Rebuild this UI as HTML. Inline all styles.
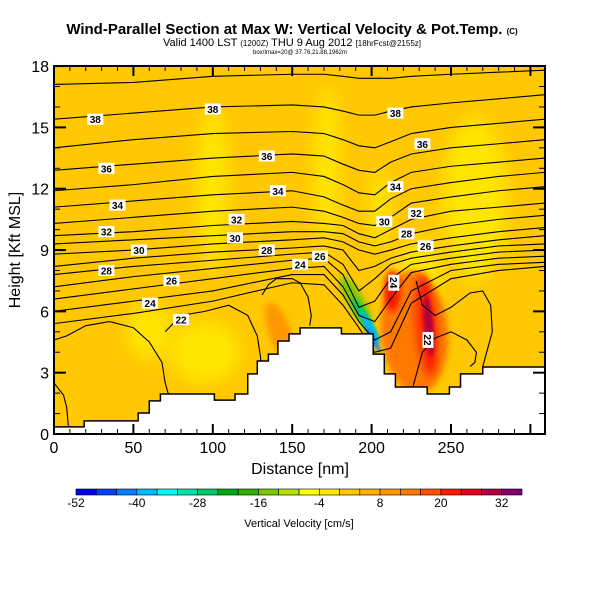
<!DOCTYPE html>
<html><head><meta charset="utf-8">
<style>
body{margin:0;background:#fff;width:600px;height:600px;overflow:hidden}
svg{display:block;font-family:"Liberation Sans",sans-serif}
</style></head>
<body>
<svg id="chart" width="600" height="600" viewBox="0 0 600 600" xmlns="http://www.w3.org/2000/svg">
<defs>
<filter id="blur8" x="-50%" y="-50%" width="200%" height="200%"><feGaussianBlur stdDeviation="8"/></filter>
<filter id="blur3" x="-50%" y="-50%" width="200%" height="200%"><feGaussianBlur stdDeviation="3"/></filter>
<filter id="blur2" x="-50%" y="-50%" width="200%" height="200%"><feGaussianBlur stdDeviation="1.5"/></filter>
<clipPath id="plotclip"><rect x="54" y="66" width="491" height="368"/></clipPath>
</defs>
<text x="292" y="34" text-anchor="middle" font-size="15" font-weight="bold">Wind-Parallel Section at Max W: Vertical Velocity &amp; Pot.Temp. <tspan font-size="8">(C)</tspan></text>
<text x="292" y="46" text-anchor="middle" font-size="11">Valid 1400 LST <tspan font-size="8">(1200Z)</tspan> THU 9 Aug 2012 <tspan font-size="8">[18hrFcst@2155z]</tspan></text>
<text x="300" y="54" text-anchor="middle" font-size="6">box/Imax=20@ 37.76,21.88,1962m</text>
<g id="plot" clip-path="url(#plotclip)">
<rect x="54" y="66" width="491" height="368" fill="#ffc800"/>
<g id="patches"></g>
<g id="contours"></g>
<path id="terrain" fill="#fff" stroke="#000" stroke-width="1.5"/>
<g id="labels"></g>
</g>
<rect x="54" y="66" width="491" height="368" fill="none" stroke="#000" stroke-width="2"/>
<g id="axes"></g>
<text x="300" y="474" text-anchor="middle" font-size="16">Distance [nm]</text>
<text transform="translate(20,250) rotate(-90)" text-anchor="middle" font-size="16">Height [Kft MSL]</text>
<g id="colorbar"></g>
<text x="299" y="527" text-anchor="middle" font-size="11">Vertical Velocity [cm/s]</text>
</svg>
<script>
// ---- data ----
const xTicks = [0, 50, 100, 150, 200, 250];
const yTicks = [0, 3, 6, 9, 12, 15, 18];
const cbLevels = [-52,-48,-44,-40,-36,-32,-28,-24,-20,-16,-12,-8,-4,0,4,8,12,16,20,24,28,32,36];
const cbColors = ["#0000f0","#0040ff","#0080ff","#00b8ff","#00f8f0","#00e0a8","#00c868","#00a818","#30b000","#78c800","#b8e000","#ffff00","#ffe600","#ffc800","#ffb000","#ff9800","#ff7800","#ff5000","#ff1800","#e00020","#b00040","#800070"];
const cbTickLabels = [-52, -40, -28, -16, -4, 8, 20, 32];
// terrain profile (distance nm, height kft)
const terrainD = [0,19,19,53,53,60,60,67,67,101,101,114,114,122,122,128,128,135,135,141,141,148,148,155,155,181,181,201,201,208,208,215,215,235,235,249,249,256,256,270,270,309];
const terrainH = [0.35,0.35,0.64,0.64,1.03,1.03,1.62,1.62,1.96,1.96,1.66,1.66,1.96,1.96,2.94,2.94,3.57,3.57,3.91,3.91,4.55,4.55,4.9,4.9,5.19,5.19,4.9,4.9,3.91,3.91,2.94,2.94,2.3,2.3,1.96,1.96,2.3,2.3,2.94,2.94,3.28,3.28];
// vertical velocity patches: centre distance, centre height, value (cm/s)
const patchD = [100,172,265,95,60,205,142,230,227,213,234,235,236,190,196,199,201];
const patchH = [12,13,11.5,4,5,11,5,8,5,7.0,5.3,5.3,5.3,6.5,5.6,5.2,4.6];
const patchV = [-2,-2,-2,-2,-2,-2,10,-2,12,20,16,22,30,-16,-28,-40,-44];
const patchRx = [10,8,20,22,14,6,7,15,21,5,8,4,2.8,5,3,2.2,1.4];
const patchRy = [4,4,4,1.5,1.3,2,1.5,1.5,3.0,1,2.6,2.2,1.5,1.4,1.2,0.9,0.7];
const patchRot = [0,0,0,0,0,0,-20,0,-5,0,-5,-5,-5,-30,-30,-30,-30];
// potential temperature contours: heights at knot distances
const contourD = [0,50,100,150,170,182,192,202,212,225,250,280,309];
const contourH = [
 [17.1,17.2,17.5,17.6,17.6,17.5,17.4,17.4,17.4,17.5,17.6,17.7,17.8],
 [15.4,15.7,16.0,16.1,16.0,15.8,15.6,15.6,15.8,16.0,16.2,16.4,16.6],
 [14.0,14.4,14.7,14.8,14.7,14.4,14.1,14.0,14.3,14.7,15.0,15.2,15.4],
 [12.9,13.2,13.5,13.7,13.6,13.2,12.9,12.8,13.3,13.7,14.0,14.2,14.4],
 [11.9,12.2,12.6,12.8,12.6,12.2,11.8,11.7,12.3,12.8,13.1,13.3,13.5],
 [11.1,11.4,11.7,11.9,11.6,11.2,10.9,10.9,11.5,12.0,12.3,12.6,12.8],
 [10.3,10.6,10.9,11.1,10.9,10.6,10.3,10.2,10.6,11.3,11.6,11.9,12.1],
 [9.7,9.9,10.2,10.4,10.3,10.2,9.8,9.6,10.0,10.5,10.9,11.1,11.3],
 [9.3,9.5,9.7,9.9,9.9,9.8,9.4,9.2,9.4,9.8,10.2,10.5,10.7],
 [8.8,9.0,9.3,9.5,9.6,9.4,9.0,8.8,9.0,9.3,9.6,9.9,10.1],
 [8.2,8.6,8.9,9.1,9.2,9.0,8.0,8.2,8.6,8.9,9.2,9.5,9.7],
 [7.8,8.2,8.5,8.8,8.9,8.3,7.0,7.6,8.3,8.6,8.9,9.2,9.3],
 [7.2,7.7,8.1,8.5,8.6,7.8,6.2,6.5,7.6,8.3,8.6,8.9,9.0],
 [6.6,7.1,7.6,8.1,8.2,7.2,5.8,5.5,6.6,7.9,8.3,8.6,8.7],
 [6.0,6.5,7.0,7.8,7.8,6.8,5.5,4.6,5.0,7.0,8.0,8.3,8.4],
 [5.4,5.9,6.5,7.4,7.3,6.3,5.2,4.0,4.2,6.4,7.6,8.0,8.2]
];
// lower closed contours (distance, height pairs)
const bubble1D = [0,8,20,35,50,60,68,70,72];
const bubble1H = [4.6,4.8,5.3,5.5,5.2,4.5,3.5,2.5,1.96];
const bubble2D = [70,80,95,110,122,128,130,131];
const bubble2H = [5.0,5.8,6.0,6.3,5.8,4.8,3.8,3.0];
const bubble3D = [131,135,140,150,155,160,162,161];
const bubble3H = [6.8,7.3,7.6,7.6,7.4,6.7,5.8,5.3];
const bubble4D = [0,6,8,9];
const bubble4H = [2.5,1.9,1.3,0.4];
const bubble5D = [228,232,240,250,262,270,275,276,270];
const bubble5H = [7.5,6.3,5.8,6.2,6.9,7.0,6.3,5.0,3.3];
const bubble6D = [226,232,240,250,260,266,265,262];
const bubble6H = [2.3,4.0,4.7,5.0,4.6,4.0,3.5,3.3];
// contour labels
const labelD = [26,100,215,33,134,232,40,141,215,33,115,228,53.5,114,208,33,134,222,167.5,234,74,60.5,155,214,80,235.5];
const labelH = [15.4,15.9,15.7,13.0,13.6,14.2,11.2,11.9,12.1,9.9,10.5,10.8,9.0,9.6,10.4,8.0,9.0,9.8,8.7,9.2,7.5,6.4,8.3,7.4,5.6,4.6];
const labelT = ["38","38","38","36","36","36","34","34","34","32","32","32","30","30","30","28","28","28","26","26","26","24","24","24","22","22"];
const labelVertical = [0,0,0,0,0,0,0,0,0,0,0,0,0,0,0,0,0,0,0,0,0,0,0,1,0,1];

// ---- scales ----
const X0=54, PXN=1.588, Y0=434, PYK=20.44;
const sx = d => X0 + d*PXN;
const sy = h => Y0 - h*PYK;
const NS="http://www.w3.org/2000/svg";
function mk(tag, parent){const e=document.createElementNS(NS,tag);parent.appendChild(e);return e;}
function colorFor(v){for(let i=0;i<cbColors.length;i++){if(v<cbLevels[i+1])return cbColors[i];}return cbColors[cbColors.length-1];}

// patches
const pg=document.getElementById('patches');
for(let i=0;i<patchD.length;i++){
  const e=mk('ellipse',pg);
  
  
  e.setAttribute('cx',sx(patchD[i]));e.setAttribute('cy',sy(patchH[i]));
  e.setAttribute('rx',patchRx[i]*PXN);e.setAttribute('ry',patchRy[i]*PYK);
  e.setAttribute('fill',colorFor(patchV[i]));
  e.setAttribute('filter', Math.abs(patchV[i])>=24?'url(#blur2)':(Math.abs(patchV[i])>8?'url(#blur3)':'url(#blur8)'));
  e.setAttribute('transform','rotate('+patchRot[i]+' '+sx(patchD[i])+' '+sy(patchH[i])+')');
}
// contours
const cg=document.getElementById('contours');
function poly(ds,hs,name){
  const p=mk('polyline',cg);
  
  
  p.setAttribute('points',ds.map((d,i)=>sx(d)+','+sy(hs[i])).join(' '));
  p.setAttribute('fill','none');p.setAttribute('stroke','#000');p.setAttribute('stroke-width','1.1');
}
contourH.forEach((hs,i)=>poly(contourD,hs,'theta-contour'));
poly(bubble1D,bubble1H,'theta-contour-low');
poly(bubble2D,bubble2H,'theta-contour-low');
poly(bubble3D,bubble3H,'theta-contour-low');
poly(bubble4D,bubble4H,'theta-contour-low');
poly(bubble5D,bubble5H,'theta-contour-low');
poly(bubble6D,bubble6H,'theta-contour-low');
// terrain
const tp=document.getElementById('terrain');
let dstr='M'+sx(0)+','+(Y0+2);
for(let i=0;i<terrainD.length;i++) dstr+=' L'+sx(terrainD[i])+','+sy(terrainH[i]);
dstr+=' L'+(sx(309)+2)+','+(Y0+2)+' Z';
tp.setAttribute('d',dstr);
// labels
const lg=document.getElementById('labels');
for(let i=0;i<labelT.length;i++){
  const g=mk('g',lg);
  
  
  const x=sx(labelD[i]),y=sy(labelH[i]);
  g.setAttribute('transform','translate('+x+','+y+')'+(labelVertical[i]?' rotate(90)':''));
  const r=mk('rect',g);r.setAttribute('x',-8);r.setAttribute('y',-5.5);r.setAttribute('width',16);r.setAttribute('height',11);r.setAttribute('fill','#fff');
  const t=mk('text',g);t.setAttribute('text-anchor','middle');t.setAttribute('y',4);t.setAttribute('font-size','10');t.setAttribute('font-weight','bold');t.textContent=labelT[i];
}
// axes
const ag=document.getElementById('axes');
function line(x1,y1,x2,y2,w,name){const l=mk('line',ag);l.setAttribute('x1',x1);l.setAttribute('y1',y1);l.setAttribute('x2',x2);l.setAttribute('y2',y2);l.setAttribute('stroke','#000');l.setAttribute('stroke-width',w);}
for(let d=0;d<=300;d+=10){
  const major=d%50===0,len=major?10:5,w=major?2:1;
  line(sx(d),Y0,sx(d),Y0-len,w,'x-tick');
  line(sx(d),66,sx(d),66+len,w,'x-tick');
}
for(let h=0;h<=18;h++){
  const major=h%3===0,len=major?12:6,w=major?2:1;
  line(X0,sy(h),X0+len,sy(h),w,'y-tick');
  line(545,sy(h),545-len,sy(h),w,'y-tick');
}
xTicks.forEach(v=>{const t=mk('text',ag);t.setAttribute('x',sx(v));t.setAttribute('y',453);t.setAttribute('text-anchor','middle');t.setAttribute('font-size','16');t.textContent=v;});
yTicks.forEach(v=>{const t=mk('text',ag);t.setAttribute('x',49);t.setAttribute('y',sy(v)+6);t.setAttribute('text-anchor','end');t.setAttribute('font-size','16');t.textContent=v;});
// colorbar
const cb=document.getElementById('colorbar');
const CB0=76,CBW=446/cbColors.length;
cbColors.forEach((c,i)=>{const r=mk('rect',cb);r.setAttribute('x',CB0+i*CBW);r.setAttribute('y',489);r.setAttribute('width',CBW);r.setAttribute('height',6);r.setAttribute('fill',c);r.setAttribute('stroke','#000');r.setAttribute('stroke-width','0.6');});
cbTickLabels.forEach(v=>{const i=cbLevels.indexOf(v);const t=mk('text',cb);t.setAttribute('x',CB0+i*CBW);t.setAttribute('y',507);t.setAttribute('text-anchor','middle');t.setAttribute('font-size','12');t.textContent=v;});
</script>
</body></html>
